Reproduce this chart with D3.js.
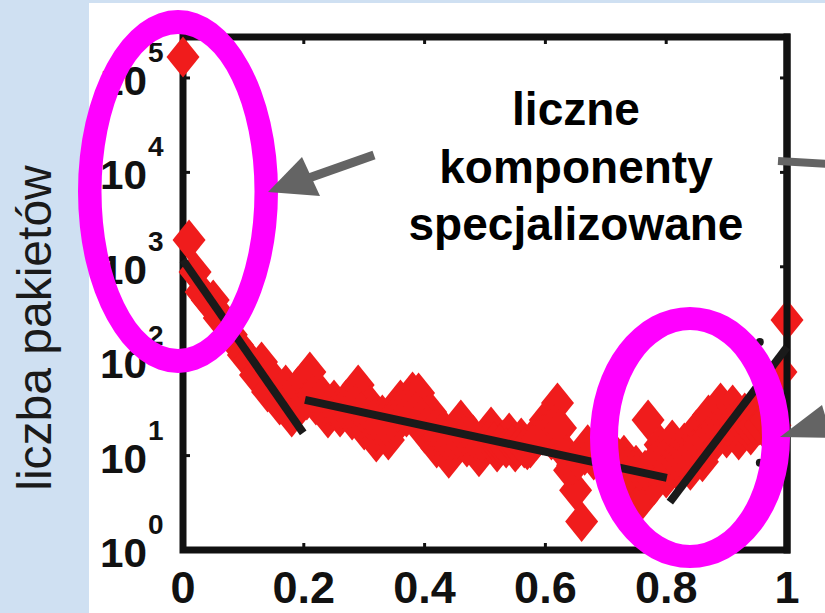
<!DOCTYPE html>
<html>
<head>
<meta charset="utf-8">
<script src="https://cdn.jsdelivr.net/npm/d3@7"></script>
<style>
  body { margin: 0; background: #fff; }
  text { font-family: "Liberation Sans", Arial, Helvetica, sans-serif; }
</style>
</head>
<body>
<svg width="825" height="613"></svg>
<script>
// counts per bin, bins every 0.01 from 0 to 1
var counts = [166800, 1920, 881, 541, 445, 445, 287, 260, 190, 149,
  116, 103, 71.4, 98, 47.2, 63.2, 34.4, 56, 25.6, 53.3,
  63, 76.9, 34.4, 43.9, 25.0, 38.8, 25.6, 38.8, 23.8, 56,
  18.7, 34.4, 13.9, 26.9, 14.6, 19.6, 38.8, 25.6, 47.2, 46.0,
  17.4, 29.0, 12.0, 19.6, 9.4, 17.8, 23.8, 12.3, 16.5, 9.7,
  14.6, 20.1, 10.9, 14.6, 17.4, 10.9, 15.4, 11.5, 13.9, 18.7,
  23.8, 14.6, 36.1, 11.5, 7.0, 4.3, 2.0, 13.0, 9.0, 14.6,
  7.4, 11.5, 6.2, 10.1, 5.5, 7.9, 3.4, 23.8, 4.9, 13.0,
  5.8, 14.6, 6.7, 13.6, 7.0, 18.7, 8.6, 26.9, 13.6, 36.1,
  15.4, 34.4, 14.6, 28.3, 16.5, 30.4, 20.1, 38.8, 21.0, 76.9,
  273];
var binWidth = 0.01;

// in-between bins (0.205, 0.215, ... 0.965), the dense core of the band
var midStart = 0.205;
var midCounts = [38.8, 43.9, 38.8, 34.4, 34.4, 30.4, 31.9, 30.4, 34.4, 29.0,
  25.0, 23.8, 21.1, 21.1, 23.8, 29.0, 30.4, 30.4, 29.0, 25.0,
  21.1, 18.7, 16.5, 14.6, 14.6, 15.4, 16.5, 16.5, 14.6, 13.9,
  14.6, 13.9, 13.0, 12.0, 13.0, 12.0, 12.0, 12.0, 14.6, 16.5,
  18.7, 21.1, 19.6, 10.1, 7.9, 9.0, 10.1, 10.1, 9.4, 9.4,
  9.0, 8.6, 7.9, 7.4, 7.0, 7.0, 7.0, 7.9, 9.0, 9.0,
  7.9, 9.0, 9.4, 10.1, 11.5, 13.0, 14.6, 17.8, 19.6, 21.1,
  21.1, 21.1, 21.1, 21.1, 21.1, 21.1, 23.8];

// three fitted segments [x, count]
var fitLines = [
  [[0, 1180], [0.199, 17.4]],
  [[0.202, 38.9], [0.801, 5.8]],
  [[0.806, 3.22], [1.0, 141]]
];

// two small black marks near x = 0.955
var blackMarks = [[0.955, 160], [0.955, 8.4]];

var xTicks = [0, 0.2, 0.4, 0.6, 0.8, 1];
var xTickLabels = ["0", "0.2", "0.4", "0.6", "0.8", "1"];
var yExponents = [0, 1, 2, 3, 4, 5];

var yLabel = "liczba pakietów";
var noteLines = ["liczne", "komponenty", "specjalizowane"];

var svg = d3.select("svg"),
    width = +svg.attr("width"),
    height = +svg.attr("height");

// slide background
svg.append("rect").attr("width", width).attr("height", height).attr("fill", "#cfe0f2");
svg.append("rect").attr("x", 89).attr("y", 3).attr("width", width - 89).attr("height", height - 3).attr("fill", "#fff");

var x = d3.scaleLinear().domain([0, 1]).range([183, 787]);
var y = d3.scaleLog().domain([1, Math.pow(10, 5.434)]).range([550, 37]);

var axisColor = "#111";

// box (left, top, bottom)
svg.append("rect")
  .attr("x", x(0)).attr("y", y.range()[1])
  .attr("width", x(1) - x(0)).attr("height", y.range()[0] - y.range()[1])
  .attr("fill", "none").attr("stroke", axisColor).attr("stroke-width", 7);

// inner ticks
var tk = svg.append("g").attr("stroke", axisColor).attr("stroke-width", 3);
xTicks.slice(1, -1).forEach(function(t) {
  tk.append("line").attr("x1", x(t)).attr("x2", x(t)).attr("y1", 550).attr("y2", 543);
  tk.append("line").attr("x1", x(t)).attr("x2", x(t)).attr("y1", 37).attr("y2", 44);
});
yExponents.slice(1).forEach(function(e) {
  var v = Math.pow(10, e);
  tk.append("line").attr("x1", x(0)).attr("x2", x(0) + 7).attr("y1", y(v)).attr("y2", y(v));
  tk.append("line").attr("x1", x(1)).attr("x2", x(1) - 7).attr("y1", y(v)).attr("y2", y(v));
});

// diamonds
var pts = counts.map(function(d, i) { return [i * binWidth, d]; })
  .concat(midCounts.map(function(d, i) { return [midStart + i * binWidth, d]; }));

svg.append("g")
  .selectAll("path")
  .data(pts)
  .enter()
  .append("path")
    .attr("d", "M0,-20.5L16.5,0L0,20.5L-16.5,0Z")
    .attr("transform", function(d) { return "translate(" + x(d[0]) + "," + y(d[1]) + ")"; })
    .attr("fill", "#f01c1c");

// right edge drawn over the markers
svg.append("line")
  .attr("x1", x(1)).attr("x2", x(1))
  .attr("y1", y.range()[1] - 3.5).attr("y2", y.range()[0] + 3.5)
  .attr("stroke", axisColor).attr("stroke-width", 7);

// fitted lines
svg.append("g")
  .selectAll("line")
  .data(fitLines)
  .enter()
  .append("line")
    .attr("x1", function(d) { return x(d[0][0]); })
    .attr("y1", function(d) { return y(d[0][1]); })
    .attr("x2", function(d) { return x(d[1][0]); })
    .attr("y2", function(d) { return y(d[1][1]); })
    .attr("stroke", "#1a1a1a")
    .attr("stroke-width", 8);

svg.append("g")
  .selectAll("circle")
  .data(blackMarks)
  .enter()
  .append("circle")
    .attr("cx", function(d) { return x(d[0]); })
    .attr("cy", function(d) { return y(d[1]); })
    .attr("r", 4)
    .attr("fill", "#1a1a1a");

// x tick labels
svg.append("g")
  .selectAll("text")
  .data(xTicks)
  .enter()
  .append("text")
    .attr("x", function(d) { return x(d); })
    .attr("y", 603)
    .attr("text-anchor", "middle")
    .attr("font-size", 45)
    .attr("font-weight", "bold")
    .attr("fill", "#111")
    .text(function(d, i) { return xTickLabels[i]; });

// y tick labels 10^n
var yl = svg.append("g").attr("fill", "#111").attr("font-weight", "bold");
yExponents.forEach(function(e) {
  var yy = y(Math.pow(10, e));
  yl.append("text").attr("x", 100).attr("y", yy + 17)
    .attr("font-size", 40)
    .attr("textLength", 47).attr("lengthAdjust", "spacingAndGlyphs")
    .text("10");
  yl.append("text").attr("x", 148).attr("y", yy - 16)
    .attr("font-size", 28).text(e);
});

// axis title in the blue margin
svg.append("text")
  .attr("transform", "translate(51,328) rotate(-90)")
  .attr("text-anchor", "middle")
  .attr("font-size", 48)
  .attr("fill", "#1a1a1a")
  .text(yLabel);

// magenta rings
function ring(cx, cy, ro, rOy, ri, rIy) {
  return "M" + (cx - ro) + "," + cy +
    "a" + ro + "," + rOy + " 0 1,0 " + (2 * ro) + ",0" +
    "a" + ro + "," + rOy + " 0 1,0 " + (-2 * ro) + ",0Z" +
    "M" + (cx - ri) + "," + cy +
    "a" + ri + "," + rIy + " 0 1,0 " + (2 * ri) + ",0" +
    "a" + ri + "," + rIy + " 0 1,0 " + (-2 * ri) + ",0Z";
}
svg.append("path").attr("d", ring(178, 191.5, 100, 181.5, 76.5, 157.5))
  .attr("fill", "#ff00ff").attr("fill-rule", "evenodd");
svg.append("path").attr("d", ring(690, 437.5, 100, 130.5, 72, 107.5))
  .attr("fill", "#ff00ff").attr("fill-rule", "evenodd");

// grey arrows
var grey = "#646464";
svg.append("line").attr("x1", 374).attr("y1", 155).attr("x2", 306).attr("y2", 179)
  .attr("stroke", grey).attr("stroke-width", 9);
svg.append("path").attr("d", "M268,192L302,157L320,196Z").attr("fill", grey);
svg.append("line").attr("x1", 778).attr("y1", 161).attr("x2", 830).attr("y2", 164)
  .attr("stroke", grey).attr("stroke-width", 8);
svg.append("path").attr("d", "M780,437L822,405L832,438Z").attr("fill", grey);

// note
svg.append("g")
  .selectAll("text")
  .data(noteLines)
  .enter()
  .append("text")
    .attr("x", 576)
    .attr("y", function(d, i) { return 125 + i * 57.5; })
    .attr("text-anchor", "middle")
    .attr("font-size", 46)
    .attr("font-weight", "bold")
    .attr("fill", "#000")
    .text(function(d) { return d; });
</script>
</body>
</html>
